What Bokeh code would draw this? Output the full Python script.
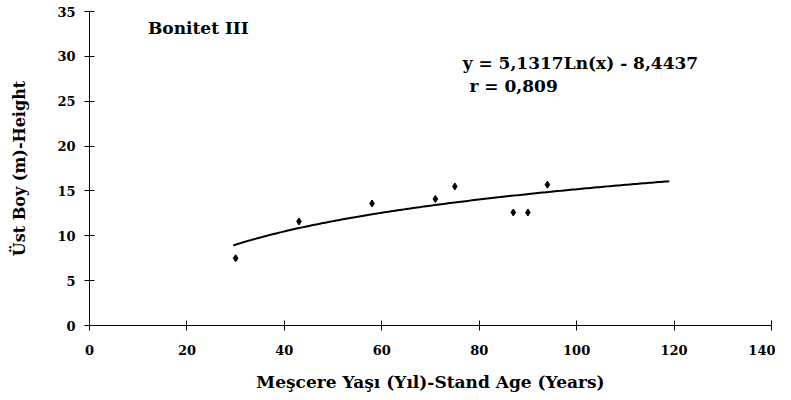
import numpy as np
from bokeh.plotting import figure
from bokeh.models import Range1d, FixedTicker, Label
from bokeh.embed import file_html
from bokeh.resources import INLINE

stand_age = [30, 43, 58, 71, 75, 87, 90, 94]
height = [7.5, 11.6, 13.6, 14.1, 15.5, 12.6, 12.6, 15.7]

# Trend line as printed on the chart: y = a*Ln(x) + b
coef_a = 5.1317
coef_b = -8.4437
trend_start, trend_end = 29.5, 119

x_ticks = [0, 20, 40, 60, 80, 100, 120, 140]
y_ticks = [0, 5, 10, 15, 20, 25, 30, 35]

FONT = "DejaVu Serif"

p = figure(width=775, height=394, output_backend="svg", toolbar_location=None,
           x_range=Range1d(0, 140), y_range=Range1d(0, 35),
           min_border_left=89, min_border_right=4, min_border_top=11, min_border_bottom=69)
p.outline_line_color = None
p.xgrid.visible = False
p.ygrid.visible = False

tx = np.linspace(trend_start, trend_end, 200)
ty = coef_a * np.log(tx) + coef_b
p.line(tx, ty, line_color="black", line_width=2)
p.scatter(stand_age, height, marker="diamond", size=7, color="black")

for ax in (p.xaxis, p.yaxis):
    ax.axis_line_color = "black"
    ax.major_tick_line_color = "black"
    ax.minor_tick_line_color = None
    ax.major_tick_in = 5
    ax.major_tick_out = 5
    ax.major_label_text_font = FONT
    ax.major_label_text_font_style = "bold"
    ax.major_label_text_font_size = "13px"
    ax.major_label_text_color = "black"
    ax.axis_label_text_font = FONT
    ax.axis_label_text_font_style = "bold"
    ax.axis_label_text_color = "black"

p.xaxis.axis_label_text_font_size = "17px"
p.yaxis.axis_label_text_font_size = "16px"
p.xaxis.ticker = FixedTicker(ticks=x_ticks)
p.yaxis.ticker = FixedTicker(ticks=y_ticks)
p.xaxis.axis_label = "Meşcere Yaşı (Yıl)-Stand Age (Years)"
p.yaxis.axis_label = "Üst Boy (m)-Height"
p.xaxis.major_label_standoff = 14
p.xaxis.axis_label_standoff = 14
p.yaxis.major_label_standoff = 9
p.yaxis.axis_label_standoff = 25

p.add_layout(Label(x=12, y=33.2, text="Bonitet III", text_font=FONT,
                   text_font_style="bold", text_font_size="17px",
                   text_baseline="middle", text_color="black"))
p.add_layout(Label(x=76.6, y=29.3, text="y = 5,1317Ln(x) - 8,4437", text_font=FONT,
                   text_font_style="bold", text_font_size="17px",
                   text_baseline="middle", text_color="black"))
p.add_layout(Label(x=78, y=26.7, text="r = 0,809", text_font=FONT,
                   text_font_style="bold", text_font_size="17px",
                   text_baseline="middle", text_color="black"))

open("out.html", "w").write(file_html(p, INLINE))
